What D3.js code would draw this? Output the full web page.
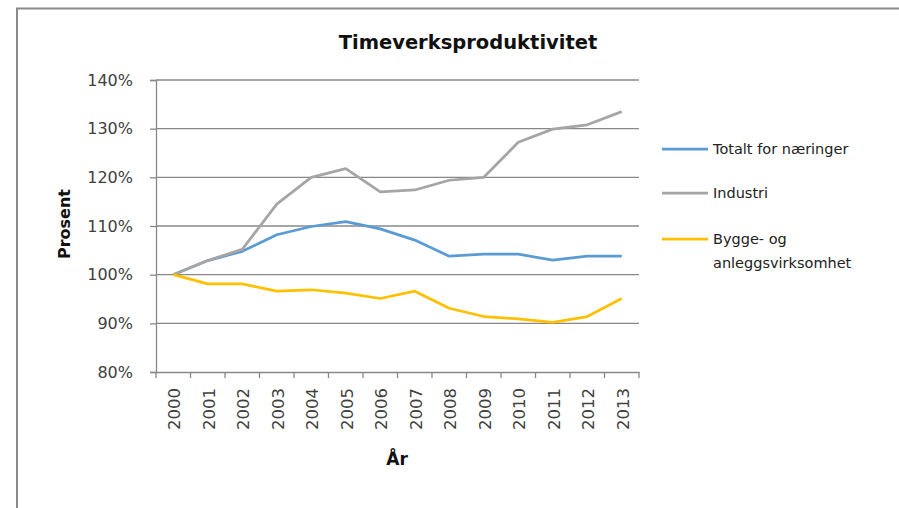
<!DOCTYPE html>
<html>
<head>
<meta charset="utf-8">
<script src="https://cdn.jsdelivr.net/npm/d3@7"></script>
<style>
  body { margin: 0; background: #fff; }
  svg text { font-family: "DejaVu Sans", "Noto Sans", sans-serif; }
</style>
</head>
<body>
<div id="chart"></div>
<script>
const years = ['2000', '2001', '2002', '2003', '2004', '2005', '2006',
  '2007', '2008', '2009', '2010', '2011', '2012', '2013']

const totalt = [100, 102.9, 104.8, 108.2, 109.9, 110.9, 109.4, 107.1, 103.8, 104.2, 104.2, 103.0, 103.8, 103.8]
const industri = [100, 102.9, 105.2, 114.5, 120.0, 121.8, 117.0, 117.4, 119.4, 120.0, 127.2, 129.9, 130.8, 133.5]
const bygge = [100, 98.1, 98.1, 96.6, 96.9, 96.2, 95.1, 96.6, 93.1, 91.4, 90.9, 90.2, 91.4, 95.1]

const yTicks = [80, 90, 100, 110, 120, 130, 140]

const series = [
  { name: ['Totalt for næringer'], values: totalt, color: '#5b9bd5' },
  { name: ['Industri'], values: industri, color: '#a5a5a5' },
  { name: ['Bygge- og', 'anleggsvirksomhet'], values: bygge, color: '#ffc000' }
]

// plot area
const margin = { top: 80, left: 156 }
const width = 483
const height = 292

const svg = d3.select('#chart')
  .append('svg')
  .attr('width', 899)
  .attr('height', 508)

// outer frame
svg.append('rect')
  .attr('x', 17).attr('y', 8.5)
  .attr('width', 1000).attr('height', 600)
  .attr('fill', 'none')
  .attr('stroke', '#8a8a8a')
  .attr('stroke-width', 2)

const xScale = d3.scaleBand()
  .domain(years)
  .range([0, width])

const yScale = d3.scaleLinear()
  .domain([80, 140])
  .range([height, 0])

const g = svg.append('g')
  .attr('transform', `translate(${margin.left}, ${margin.top})`)

// gridlines
g.append('g')
  .selectAll('line')
  .data(yTicks.slice(1))
  .join('line')
    .attr('x1', 0).attr('x2', width)
    .attr('y1', d => yScale(d)).attr('y2', d => yScale(d))
    .attr('stroke', '#888')
    .attr('stroke-width', 1.3)

// y axis
const yAxis = g.append('g')
  .call(d3.axisLeft(yScale).tickValues(yTicks).tickSize(6).tickFormat(d => d + '%'))
yAxis.select('.domain').attr('stroke', '#888').attr('stroke-width', 1.3)
yAxis.selectAll('.tick line').attr('stroke', '#888').attr('stroke-width', 1.3)
yAxis.selectAll('.tick text')
  .attr('x', -23)
  .attr('font-size', 16)
  .attr('fill', '#404040')

// x axis with ticks on band edges
const xAxis = g.append('g')
  .attr('transform', `translate(0, ${height})`)
  .call(d3.axisBottom(xScale).tickSize(0))
xAxis.select('.domain').attr('stroke', '#888').attr('stroke-width', 1.3)
xAxis.selectAll('.tick text')
  .attr('transform', 'rotate(-90)')
  .attr('x', -16)
  .attr('y', 1)
  .attr('dy', '0.35em')
  .attr('text-anchor', 'end')
  .attr('font-size', 16.5)
  .attr('fill', '#404040')
xAxis.append('g')
  .selectAll('line')
  .data(years.concat(['end']))
  .join('line')
    .attr('x1', (d, i) => i * xScale.bandwidth())
    .attr('x2', (d, i) => i * xScale.bandwidth())
    .attr('y1', 0).attr('y2', 6)
    .attr('stroke', '#888')
    .attr('stroke-width', 1.3)

// lines
const line = d3.line()
  .x((d, i) => xScale(years[i]) + xScale.bandwidth() / 2)
  .y(d => yScale(d))

g.selectAll('.series')
  .data(series)
  .join('path')
    .attr('class', 'series')
    .attr('d', d => line(d.values))
    .attr('fill', 'none')
    .attr('stroke', d => d.color)
    .attr('stroke-width', 2.75)
    .attr('stroke-linejoin', 'round')

// title and axis titles
svg.append('text')
  .attr('x', 468).attr('y', 49)
  .attr('text-anchor', 'middle')
  .attr('font-size', 19.5)
  .attr('font-weight', 'bold')
  .attr('fill', '#111')
  .text('Timeverksproduktivitet')

svg.append('text')
  .attr('transform', 'translate(70, 224) rotate(-90)')
  .attr('text-anchor', 'middle')
  .attr('font-size', 16)
  .attr('font-weight', 'bold')
  .attr('fill', '#111')
  .text('Prosent')

svg.append('text')
  .attr('x', 397).attr('y', 465)
  .attr('text-anchor', 'middle')
  .attr('font-size', 17)
  .attr('font-weight', 'bold')
  .attr('fill', '#111')
  .text('År')

// legend
const legendY = [149, 193, 239]
const legend = svg.append('g')
  .selectAll('g')
  .data(series)
  .join('g')
    .attr('transform', (d, i) => `translate(662, ${legendY[i]})`)

legend.append('line')
  .attr('x1', 0).attr('x2', 46)
  .attr('stroke', d => d.color)
  .attr('stroke-width', 2.75)

legend.append('text')
  .attr('dy', '0.35em')
  .attr('font-size', 14.5)
  .attr('fill', '#222')
  .selectAll('tspan')
  .data(d => d.name)
  .join('tspan')
    .attr('x', 51)
    .attr('dy', (d, i) => i === 0 ? '0.35em' : 24)
    .text(d => d)
</script>
</body>
</html>
